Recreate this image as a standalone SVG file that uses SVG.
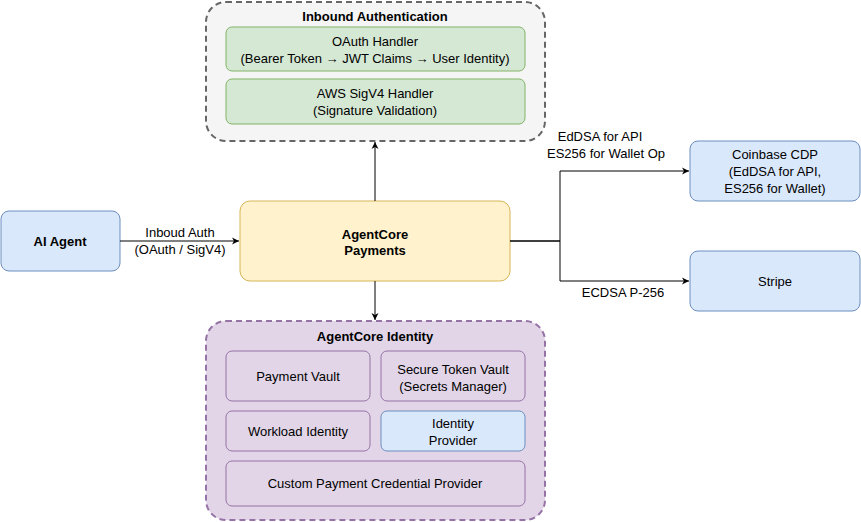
<svg xmlns="http://www.w3.org/2000/svg" width="861" height="522" viewBox="0 0 861 522">
<style>
text{font-family:"Liberation Sans",Arial,sans-serif;font-size:13px;fill:#000;text-anchor:middle}
.b{font-weight:bold}
.green{fill:#d5e8d4;stroke:#82b366}
.purple{fill:#e1d5e7;stroke:#9673a6}
.blue{fill:#dae8fc;stroke:#6c8ebf}
.cont{stroke-dasharray:6 4;stroke-width:2}
.edge{fill:none;stroke:#000;stroke-width:1}
</style>
<defs><marker id="ar" markerWidth="10" markerHeight="10" refX="8" refY="5" orient="auto" markerUnits="userSpaceOnUse"><path d="M1,1.5 L8,5 L1,8.5 L3,5 Z" fill="#000"/></marker></defs>
<g id="inbound">
<rect x="206" y="2" width="339" height="139" rx="20" class="cont" fill="#f5f5f5" stroke="#666"/>
<text x="375" y="21" class="b">Inbound Authentication</text>
<rect x="226" y="27" width="299" height="44" rx="6" class="green"/>
<text x="375" y="46">OAuth Handler</text><text x="375" y="63">(Bearer Token → JWT Claims → User Identity)</text>
<rect x="226" y="79" width="299" height="45" rx="6" class="green"/>
<text x="375" y="98">AWS SigV4 Handler</text><text x="375" y="115">(Signature Validation)</text>
</g>
<g id="identity">
<rect x="206" y="321" width="339" height="199" rx="20" class="cont purple"/>
<text x="375" y="341" class="b">AgentCore Identity</text>
<rect x="226" y="351" width="144" height="50" rx="6" class="purple"/><text x="298" y="381">Payment Vault</text>
<rect x="381" y="351" width="144" height="50" rx="6" class="purple"/><text x="453" y="374">Secure Token Vault</text><text x="453" y="391">(Secrets Manager)</text>
<rect x="226" y="411" width="144" height="40" rx="6" class="purple"/><text x="298" y="436">Workload Identity</text>
<rect x="381" y="411" width="144" height="40" rx="6" class="blue"/><text x="453" y="428">Identity</text><text x="453" y="445">Provider</text>
<rect x="226" y="461" width="299" height="45" rx="6" class="purple"/><text x="375" y="488">Custom Payment Credential Provider</text>
</g>
<g id="agent"><rect x="1" y="211" width="119" height="60" rx="8" class="blue"/><text x="60" y="246" class="b">AI Agent</text></g>
<g id="payments"><rect x="240" y="201" width="270" height="80" rx="10" fill="#fff2cc" stroke="#d6b656"/><text x="375" y="239" class="b">AgentCore</text><text x="375" y="255" class="b">Payments</text></g>
<g id="coinbase"><rect x="690" y="141" width="170" height="60" rx="8" class="blue"/><text x="775" y="159">Coinbase CDP</text><text x="775" y="176">(EdDSA for API,</text><text x="775" y="193">ES256 for Wallet)</text></g>
<g id="stripe"><rect x="690" y="251" width="170" height="60" rx="8" class="blue"/><text x="775" y="286">Stripe</text></g>
<g id="connectors">
<path d="M120,241 H239" class="edge" marker-end="url(#ar)"/>
<path d="M375,201 V142" class="edge" marker-end="url(#ar)"/>
<path d="M375,281 V320" class="edge" marker-end="url(#ar)"/>
<path d="M510,241 H560 V171 H689" class="edge" marker-end="url(#ar)"/>
<path d="M510,241 H560 V281 H689" class="edge" marker-end="url(#ar)"/>
<text x="180" y="237">Inboud Auth</text><text x="180" y="254">(OAuth / SigV4)</text>
<text x="600" y="141">EdDSA for API</text><text x="606" y="158">ES256 for Wallet Op</text>
<text x="623" y="297">ECDSA P-256</text>
</g>
</svg>
